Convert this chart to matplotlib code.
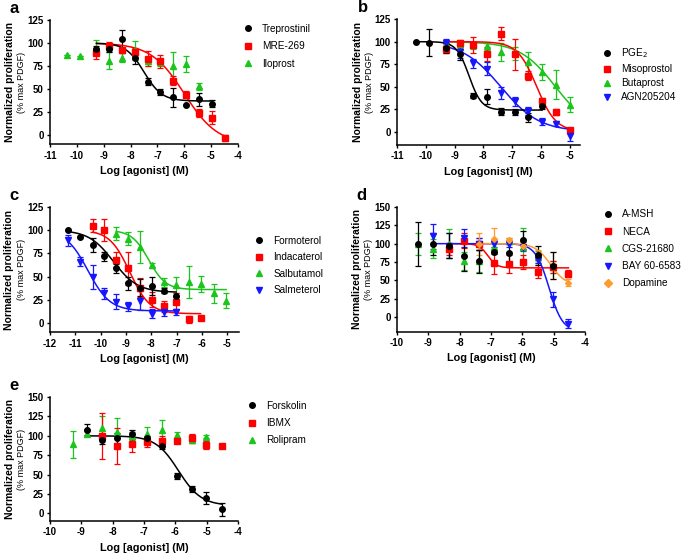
import numpy as np
import matplotlib
matplotlib.use("Agg")
import matplotlib.pyplot as plt
from matplotlib.lines import Line2D

plt.rcParams["font.family"] = ["Liberation Sans", "DejaVu Sans"]

BLACK = "#000000"
RED = "#ff0000"
GREEN = "#1ec41e"
BLUE = "#1616ff"
ORANGE = "#ff9a2e"

# ---------------------------
# PANEL a
# ---------------------------
x_a = [-9.27, -8.79, -8.32, -7.84, -7.36, -6.89, -6.41, -5.93, -5.45, -4.98, -4.50]
trep_y = [93, 93, 104, 84, 58, 47, 41, 33, 39, 34]
trep_err = [4, 3, 10, 7, 4, 3, 10, 0, 7, 4]
mre_y = [89, 97, 92, 90, 83, 80, 59, 44, 24, 19, -3]
mre_err = [6, 4, 3, 5, 8, 7, 5, 4, 4, 7, 3]
ilo_x = [-10.36, -9.88, -9.27, -8.79, -8.32, -7.84, -7.36, -6.89, -6.41, -5.93, -5.45]
ilo_y = [87, 86, 95, 81, 84, 92, 80, 79, 75, 77, 53]
ilo_err = [0, 0, 8, 9, 5, 10, 5, 4, 15, 9, 4]
fit_trep = [100, 37, -7.5, 1.3]
fit_mre = [100, -10, -6.0, 0.7]

# ---------------------------
# PANEL b
# ---------------------------
x_b = [-10.35, -9.88, -9.31, -8.83, -8.36, -7.88, -7.40, -6.92, -6.44, -5.96, -5.48, -5.00]
pge_y = [100, 99, 93, 86, 40, 39, 22, 22, 16, 29]
pge_err = [0, 15, 6, 6, 3, 8, 4, 3, 5, 4]
miso_y = [92, 98, 96, 86, 109, 86, 62, 34, 22, 2]
miso_err = [5, 4, 9, 8, 7, 17, 5, 3, 3, 2]
buta_y = [97, 97, 96, 95, 89, 87, 77, 66, 52, 30]
buta_err = [5, 4, 4, 4, 10, 7, 12, 9, 16, 8]
agn_y = [99, 88, 76, 70, 43, 34, 23, 11, 9, -5]
agn_err = [4, 6, 5, 7, 7, 5, 4, 4, 3, 5]
fit_pge = [100, 24, -8.5, 2.0]
fit_miso = [100, 0, -6.15, 1.3]
fit_buta = [100, 0, -5.5, 0.7]
fit_agn = [100, 0, -7.4, 0.65]

# ---------------------------
# PANEL c
# ---------------------------
x_c = [-11.27, -10.81, -10.32, -9.86, -9.38, -8.90, -8.43, -7.96, -7.51, -7.02,
       -6.52, -6.05, -5.53, -5.04]
form_y = [100, 93, 84, 72, 59, 43, 38, 40, 35, 29]
form_err = [0, 0, 8, 5, 5, 7, 9, 10, 3, 0]
inda_y = [105, 100, 68, 59, 38, 25, 18, 23, 4, 5]
inda_err = [7, 12, 8, 18, 10, 8, 6, 9, 4, 0]
salb_y = [96, 91, 82, 62, 44, 41, 44, 42, 32, 24]
salb_err = [7, 7, 17, 3, 5, 9, 17, 9, 10, 8]
salm_y = [89, 66, 50, 32, 23, 18, 24, 10, 12, 12]
salm_err = [6, 5, 13, 6, 8, 5, 10, 5, 4, 3]
fit_form = [100, 33, -9.5, 0.9]
fit_inda = [100, 10, -8.85, 1.1]
fit_salb = [100, 36, -8.1, 1.3]
fit_salm = [100, 13, -10.5, 1.0]

# ---------------------------
# PANEL d
# ---------------------------
x_d = [-9.33, -8.85, -8.34, -7.87, -7.38, -6.91, -6.43, -5.97, -5.49, -5.01, -4.53]
msh_y = [100, 99, 97, 83, 76, 89, 87, 105, 84, 70]
msh_err = [30, 15, 17, 20, 16, 3, 13, 12, 13, 18]
neca_y = [93, 104, 100, 73, 72, 75, 62, 68, 59]
neca_err = [8, 10, 8, 15, 12, 10, 9, 8, 5]
cgs_y = [100, 93, 100, 76, 76, 96, 104, 95, 82, 68]
cgs_err = [15, 13, 20, 12, 15, 8, 4, 27, 8, 8]
bay_y = [110, 97, 108, 100, 100, 100, 95, 78, 24, -9]
bay_err = [17, 17, 12, 8, 5, 5, 5, 5, 10, 6]
dopa_y = [100, 107, 105, 97, 84, 70, 47]
dopa_err = [15, 15, 3, 5, 8, 18, 5]
fit_neca = [100, 67, -7.1, 3.0]
fit_bay = [100, -20, -5.15, 2.0]
fit_dopa = [100, 43, -5.1, 1.8]

# ---------------------------
# PANEL e
# ---------------------------
x_e = [-9.28, -8.81, -8.33, -7.86, -7.37, -6.90, -6.42, -5.94, -5.48, -5.01, -4.51]
forsk_y = [108, 95, 97, 102, 97, 87, 48, 31, 20, 5]
forsk_err = [7, 6, 7, 6, 3, 4, 4, 4, 8, 8]
ibmx_y = [100, 87, 89, 92, 94, 94, 97, 88, 87]
ibmx_err = [30, 23, 10, 7, 6, 3, 6, 5, 0]
roli_y = [89, 103, 110, 105, 100, 103, 108, 101, 95, 99]
roli_err = [17, 3, 15, 18, 5, 8, 12, 4, 4, 2]
fit_forsk = [100, 10, -5.9, 1.2]


def four_pl(x, p):
    top, bottom, logec50, hill = p
    return bottom + (top - bottom) / (1 + 10 ** ((x - logec50) * hill))


def series(ax, x, y, err, color, marker, ms=4):
    ax.errorbar(x, y, yerr=err, fmt=marker, color=color, ms=ms,
                elinewidth=0.9, capsize=2, capthick=0.9, mec=color, mfc=color)


def curve(ax, x, p, color):
    xs = np.linspace(min(x), max(x), 200)
    ax.plot(xs, four_pl(xs, p), color=color, lw=1.1)


def style(ax, xlim, xticks, ylim, yticks, letter):
    ax.set_xlim(*xlim)
    ax.set_ylim(*ylim)
    ax.set_xticks(xticks)
    ax.set_yticks(yticks)
    ax.set_xticklabels([str(t) for t in xticks], fontsize=7, fontweight="bold")
    ax.set_yticklabels([str(t) for t in yticks], fontsize=7, fontweight="bold")
    for s in ["top", "right"]:
        ax.spines[s].set_visible(False)
    for s in ["left", "bottom"]:
        ax.spines[s].set_linewidth(1.1)
    ax.tick_params(length=2.5, width=1.0, pad=2)
    ax.set_xlabel("Log [agonist] (M)", fontsize=7.8, fontweight="bold", labelpad=4)
    ax.text(-0.215, 0.5, "Normalized proliferation", transform=ax.transAxes,
            rotation=90, ha="center", va="center", fontsize=7.5, fontweight="bold")
    ax.text(-0.15, 0.5, "(% max PDGF)", transform=ax.transAxes,
            rotation=90, ha="center", va="center", fontsize=6.5)
    ax.text(-0.215, 1.09, letter, transform=ax.transAxes,
            ha="left", va="center", fontsize=12, fontweight="bold")


def legend(ax, names, colors, markers, anchor, spacing):
    handles = [Line2D([], [], ls="none", marker=m, color=c, ms=4) for c, m in zip(colors, markers)]
    ax.legend(handles, names, loc="upper left", bbox_to_anchor=anchor, frameon=False,
              fontsize=7.2, handlelength=0.8, handletextpad=1.0, labelspacing=spacing,
              borderaxespad=0, borderpad=0, numpoints=1)


fig = plt.figure(figsize=(6.85, 5.54), dpi=100)

ax_a = fig.add_axes([0.073, 0.7395, 0.2745, 0.2244])
ax_b = fig.add_axes([0.5796, 0.738, 0.267, 0.2274])
ax_c = fig.add_axes([0.073, 0.4002, 0.2752, 0.2262])
ax_d = fig.add_axes([0.5796, 0.4013, 0.2745, 0.2251])
ax_e = fig.add_axes([0.073, 0.0594, 0.2745, 0.2238])

# a
series(ax_a, ilo_x, ilo_y, ilo_err, GREEN, "^")
series(ax_a, x_a, mre_y, mre_err, RED, "s")
series(ax_a, x_a[:10], trep_y, trep_err, BLACK, "o")
curve(ax_a, x_a, fit_mre, RED)
curve(ax_a, x_a[:10], fit_trep, BLACK)
style(ax_a, (-11, -4), list(range(-11, -3)), (-10, 125), list(range(0, 126, 25)), "a")
legend(ax_a, ["Treprostinil", "MRE-269", "Iloprost"], [BLACK, RED, GREEN], ["o", "s", "^"],
       (1.03, 0.97), 0.75)

# b
series(ax_b, x_b[2:], buta_y, buta_err, GREEN, "^")
series(ax_b, x_b[2:], miso_y, miso_err, RED, "s")
series(ax_b, x_b[2:], agn_y, agn_err, BLUE, "v")
series(ax_b, x_b[:10], pge_y, pge_err, BLACK, "o")
curve(ax_b, x_b[2:], fit_buta, GREEN)
curve(ax_b, x_b[2:], fit_miso, RED)
curve(ax_b, x_b[2:], fit_agn, BLUE)
curve(ax_b, x_b[:10], fit_pge, BLACK)
style(ax_b, (-11, -4.65), list(range(-11, -4)), (-15, 125), list(range(0, 126, 25)), "b")
legend(ax_b, ["PGE$_2$", "Misoprostol", "Butaprost", "AGN205204"],
       [BLACK, RED, GREEN, BLUE], ["o", "s", "^", "v"], (1.125, 0.785), 0.4)

# c
series(ax_c, x_c[4:], salb_y, salb_err, GREEN, "^")
series(ax_c, x_c[2:12], inda_y, inda_err, RED, "s")
series(ax_c, x_c[:10], salm_y, salm_err, BLUE, "v")
series(ax_c, x_c[:10], form_y, form_err, BLACK, "o")
curve(ax_c, x_c[4:], fit_salb, GREEN)
curve(ax_c, x_c[2:12], fit_inda, RED)
curve(ax_c, x_c[:10], fit_salm, BLUE)
curve(ax_c, x_c[:10], fit_form, BLACK)
style(ax_c, (-12, -4.55), list(range(-12, -4)), (-10, 125), list(range(0, 126, 25)), "c")
legend(ax_c, ["Formoterol", "Indacaterol", "Salbutamol", "Salmeterol"],
       [BLACK, RED, GREEN, BLUE], ["o", "s", "^", "v"], (1.09, 0.77), 0.65)

# d
series(ax_d, x_d[:10], cgs_y, cgs_err, GREEN, "^")
series(ax_d, x_d[2:], neca_y, neca_err, RED, "s")
series(ax_d, x_d[1:], bay_y, bay_err, BLUE, "v")
series(ax_d, x_d[4:], dopa_y, dopa_err, ORANGE, "D", ms=3)
series(ax_d, x_d[:10], msh_y, msh_err, BLACK, "o")
curve(ax_d, x_d[2:], fit_neca, RED)
curve(ax_d, x_d[1:], fit_bay, BLUE)
curve(ax_d, x_d[4:], fit_dopa, ORANGE)
style(ax_d, (-10, -4), list(range(-10, -3)), (-20, 150), list(range(0, 151, 25)), "d")
legend(ax_d, ["A-MSH", "NECA", "CGS-21680", "BAY 60-6583", "Dopamine"],
       [BLACK, RED, GREEN, BLUE, ORANGE], ["o", "s", "^", "v", "D"], (1.1, 0.98), 0.72)

# e
series(ax_e, x_e[:10], roli_y, roli_err, GREEN, "^")
series(ax_e, x_e[2:], ibmx_y, ibmx_err, RED, "s")
series(ax_e, x_e[1:], forsk_y, forsk_err, BLACK, "o")
curve(ax_e, x_e[1:], fit_forsk, BLACK)
style(ax_e, (-10, -4), list(range(-10, -3)), (-10, 150), list(range(0, 151, 25)), "e")
legend(ax_e, ["Forskolin", "IBMX", "Rolipram"], [BLACK, RED, GREEN], ["o", "s", "^"],
       (1.055, 0.97), 0.72)

fig.savefig("out.png", dpi=100)
